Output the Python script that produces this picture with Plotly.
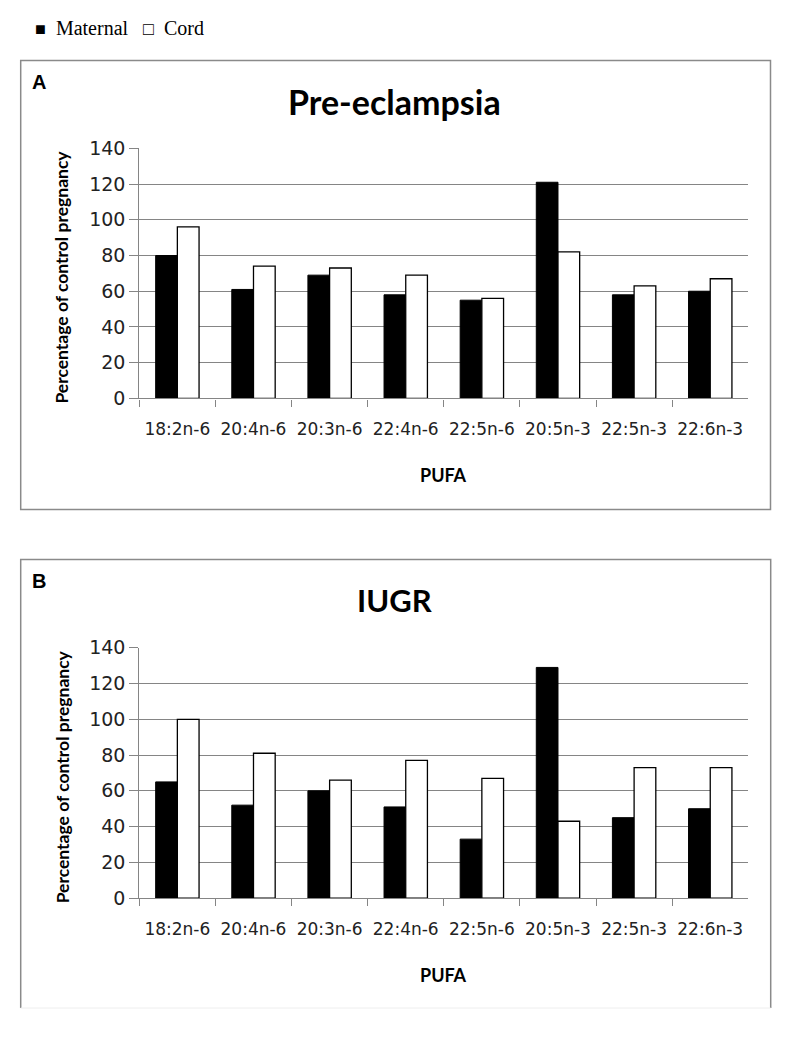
import plotly.graph_objects as go

categories = ["18:2n-6", "20:4n-6", "20:3n-6", "22:4n-6", "22:5n-6", "20:5n-3", "22:5n-3", "22:6n-3"]
pe_maternal = [80, 61, 69, 58, 55, 121, 58, 60]
pe_cord = [96, 74, 73, 69, 56, 82, 63, 67]
iugr_maternal = [65, 52, 60, 51, 33, 129, 45, 50]
iugr_cord = [100, 81, 66, 77, 67, 43, 73, 73]
y_ticks = [0, 20, 40, 60, 80, 100, 120, 140]
panel_titles = ["Pre-eclampsia", "IUGR"]
panel_letters = ["A", "B"]

# the page body has an 8px margin: figure is sized to the visible window minus that margin
PAD = 8
W, H = 787 - PAD, 1050 - PAD
def fx(x):
    return (x - PAD) / W
def fy(y):
    page_y = (y - 10) / 0.98
    return 1 - (page_y - PAD) / H

GRID = "#858585"
fig = go.Figure()

fig.add_trace(go.Bar(x=categories, y=pe_maternal, name="Maternal", marker=dict(color="black", line=dict(color="black", width=1)), xaxis="x", yaxis="y", showlegend=False))
fig.add_trace(go.Bar(x=categories, y=pe_cord, name="Cord", marker=dict(color="white", line=dict(color="black", width=1.3)), xaxis="x", yaxis="y", showlegend=False))
fig.add_trace(go.Bar(x=categories, y=iugr_maternal, name="Maternal", marker=dict(color="black", line=dict(color="black", width=1)), xaxis="x2", yaxis="y2", showlegend=False))
fig.add_trace(go.Bar(x=categories, y=iugr_cord, name="Cord", marker=dict(color="white", line=dict(color="black", width=1.3)), xaxis="x2", yaxis="y2", showlegend=False))

xdom = [fx(139.3), fx(748.3)]
xax = dict(type="category", showline=True, linecolor=GRID, linewidth=1.2, ticks="outside", tickson="boundaries",
           ticklen=7, tickcolor=GRID, tickwidth=1.2, showgrid=False,
           tickfont=dict(family="DejaVu Sans", size=17, color="#222"), ticklabelstandoff=15, fixedrange=True)
yax = dict(range=[0, 140], tickvals=y_ticks, showgrid=True, gridcolor=GRID, gridwidth=1.2, zeroline=False,
           showline=True, linecolor=GRID, linewidth=1.2, ticks="outside", ticklen=9, tickcolor=GRID, tickwidth=1.2,
           tickfont=dict(family="DejaVu Sans", size=19, color="#222"))

fig.update_layout(
    width=W, height=H, margin=dict(l=0, r=0, t=0, b=0),
    paper_bgcolor="white", plot_bgcolor="white",
    barmode="group", bargap=0.43, bargroupgap=0,
    xaxis=dict(domain=xdom, anchor="y", **xax),
    yaxis=dict(domain=[fy(397.7), fy(147.3)], anchor="x", **yax),
    xaxis2=dict(domain=xdom, anchor="y2", **xax),
    yaxis2=dict(domain=[fy(898), fy(647.3)], anchor="x2", **yax),
)

shapes = []
shapes.append(dict(type="rect", xref="paper", yref="paper", x0=fx(20.7), x1=fx(770.5), y0=fy(509), y1=fy(59.3),
                   line=dict(color="#8a8a8a", width=1.5), layer="below"))
shapes.append(dict(type="path", xref="paper", yref="paper",
                   path=f"M {fx(20.7)},{fy(1008)} L {fx(20.7)},{fy(559)} L {fx(770.7)},{fy(559)} L {fx(770.7)},{fy(1008)}",
                   line=dict(color="#8a8a8a", width=1.5), layer="below"))
shapes.append(dict(type="line", xref="paper", yref="paper", x0=fx(20.7), x1=fx(770.7), y0=fy(1008), y1=fy(1008),
                   line=dict(color="#eeeeee", width=1), layer="below"))
fig.update_layout(shapes=shapes)

ann = []
nb = "\u00a0"
ann.append(dict(xref="paper", yref="paper", x=fx(33), y=fy(27), xanchor="left", yanchor="middle", showarrow=False,
                text=f'<span style="font-size:18px">■</span>{nb}{nb}Maternal{nb}{nb}{nb}<span style="font-size:18px">□</span>{nb}{nb}Cord',
                font=dict(family="Liberation Serif", size=20, color="black")))
offsets = [0, 499.7]
axis0 = [397.7, 898]
title_sizes = [34, 31]
for i in range(2):
    off = offsets[i]
    ann.append(dict(xref="paper", yref="paper", x=fx(30), y=fy(81 + off), xanchor="left", yanchor="middle", showarrow=False,
                    text=f"<b>{panel_letters[i]}</b>", font=dict(family="Liberation Sans", size=20, color="black")))
    ann.append(dict(xref="paper", yref="paper", x=fx(394), y=fy(100 + off), xanchor="center", yanchor="middle", showarrow=False,
                    text=f"<b>{panel_titles[i]}</b>", font=dict(family="Lato", size=title_sizes[i], color="black")))
    ann.append(dict(xref="paper", yref="paper", x=fx(62), y=fy(axis0[i] - 121), xanchor="center", yanchor="middle", showarrow=False,
                    textangle=-90, text="<b>Percentage of control pregnancy</b>", font=dict(family="Lato", size=17.5, color="black")))
    ann.append(dict(xref="paper", yref="paper", x=fx(443.5), y=fy(axis0[i] + 77), xanchor="center", yanchor="middle", showarrow=False,
                    text="<b>PUFA</b>", font=dict(family="Lato", size=18, color="black")))
fig.update_layout(annotations=ann)

fig.write_html("out.html")
